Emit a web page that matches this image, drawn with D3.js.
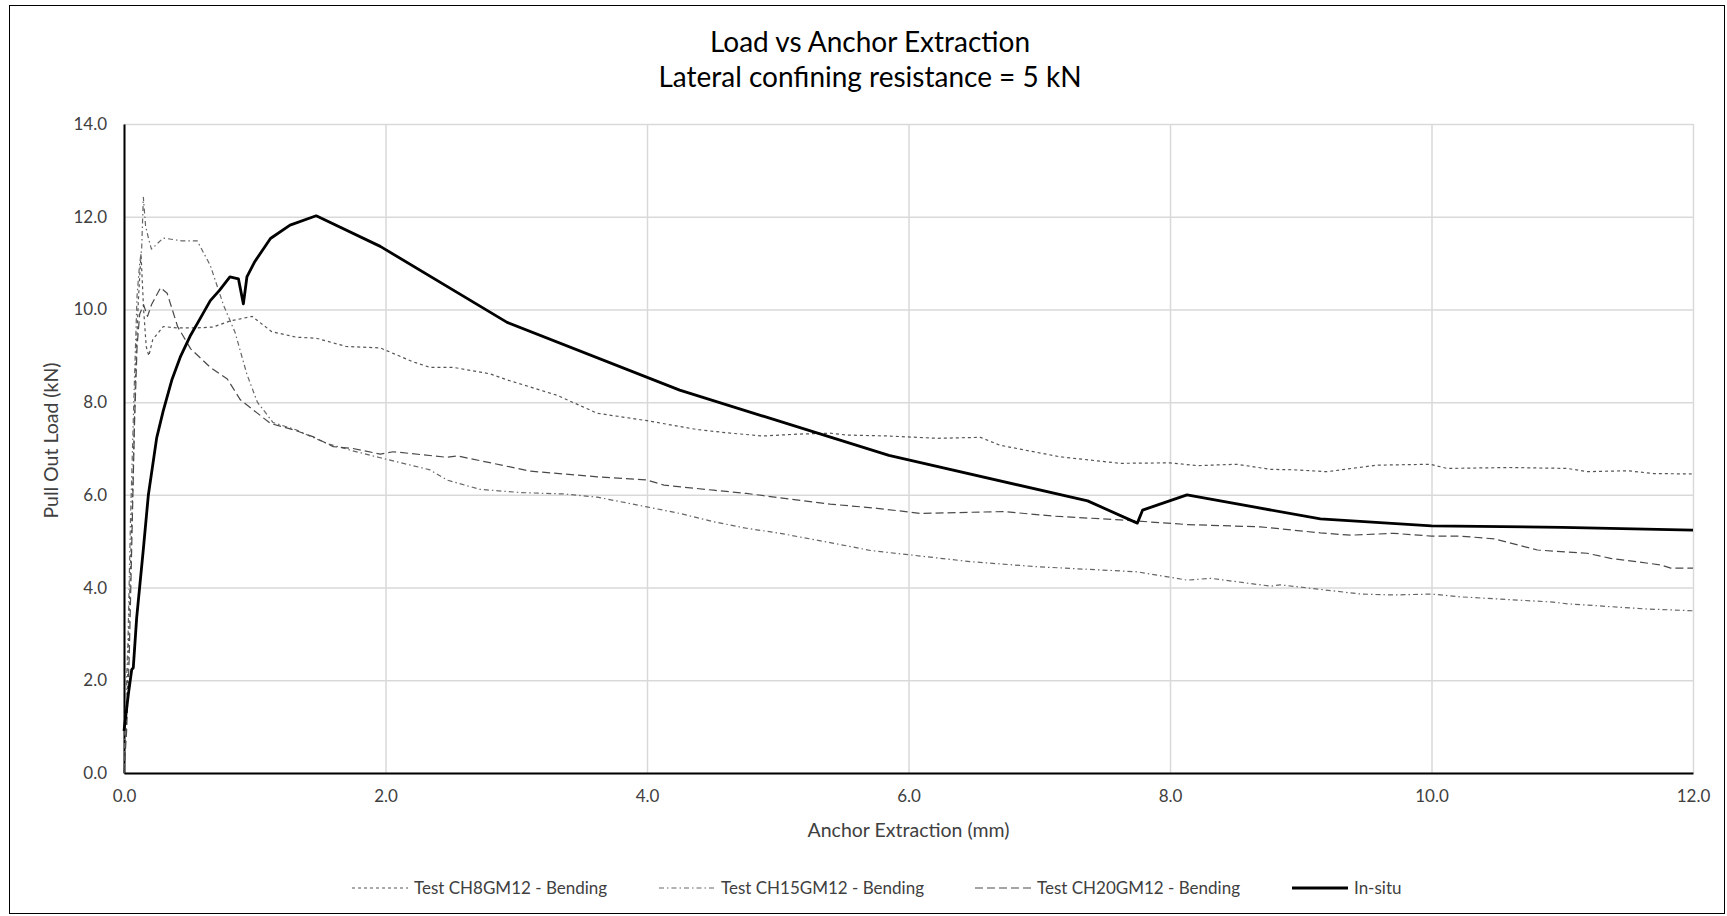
<!DOCTYPE html>
<html>
<head>
<meta charset="utf-8">
<script src="https://cdn.jsdelivr.net/npm/d3@7"></script>
<style>
    body { margin: 0; background: #ffffff; }
    text { font-family: Lato, "Open Sans", sans-serif; fill: #404040; }
</style>
</head>
<body>
<svg id="chart" width="1727" height="916"></svg>
<script>
// Data: [extraction mm, load kN]
var ch8Data = [[0,0],[0.02,1.2],[0.04,3.5],[0.07,6.5],[0.09,8.8],[0.11,10.2],[0.13,11.2],[0.15,10.0],[0.17,9.2],[0.19,9.0],[0.22,9.35],[0.30,9.63],[0.41,9.6],[0.55,9.6],[0.68,9.62],[0.81,9.75],[0.98,9.85],[1.13,9.52],[1.32,9.4],[1.47,9.38],[1.70,9.2],[1.96,9.17],[2.21,8.87],[2.34,8.75],[2.52,8.75],[2.80,8.61],[2.93,8.48],[3.31,8.15],[3.62,7.76],[4.0,7.6],[4.38,7.41],[4.64,7.33],[4.89,7.27],[5.15,7.31],[5.40,7.33],[5.53,7.29],[5.84,7.27],[6.22,7.22],[6.55,7.24],[6.70,7.07],[7.16,6.82],[7.62,6.68],[8.0,6.69],[8.21,6.63],[8.51,6.66],[8.77,6.55],[8.95,6.54],[9.20,6.5],[9.58,6.64],[9.99,6.66],[10.12,6.57],[10.60,6.59],[11.04,6.57],[11.19,6.5],[11.50,6.52],[11.70,6.46],[12.0,6.45]];

var ch15Data = [[0,0],[0.01,1.3],[0.03,2.8],[0.05,5.5],[0.08,8.5],[0.10,10.3],[0.12,11.0],[0.135,11.3],[0.148,12.42],[0.165,11.8],[0.19,11.5],[0.21,11.3],[0.30,11.54],[0.44,11.48],[0.56,11.48],[0.66,10.95],[0.76,10.1],[0.85,9.5],[0.94,8.6],[1.02,8.0],[1.14,7.56],[1.32,7.4],[1.42,7.27],[1.56,7.1],[1.75,6.95],[1.96,6.8],[2.34,6.54],[2.47,6.32],[2.72,6.12],[3.03,6.05],[3.36,6.02],[3.62,5.95],[4.0,5.74],[4.25,5.6],[4.51,5.42],[4.76,5.28],[5.02,5.17],[5.40,4.97],[5.71,4.8],[6.09,4.68],[6.47,4.56],[6.98,4.45],[7.75,4.34],[8.13,4.16],[8.31,4.2],[8.77,4.03],[8.84,4.06],[9.46,3.86],[9.71,3.84],[10.0,3.86],[10.22,3.8],[10.91,3.69],[11.04,3.65],[11.63,3.54],[12.0,3.5]];

var ch20Data = [[0,0],[0.02,0.9],[0.04,2.5],[0.06,5.0],[0.08,7.5],[0.10,9.2],[0.12,9.9],[0.15,10.1],[0.18,9.85],[0.21,10.1],[0.28,10.47],[0.33,10.35],[0.41,9.63],[0.51,9.15],[0.66,8.75],[0.79,8.5],[0.89,8.05],[1.12,7.54],[1.30,7.4],[1.45,7.25],[1.60,7.04],[1.75,7.0],[1.96,6.88],[2.06,6.93],[2.47,6.81],[2.55,6.84],[3.11,6.51],[3.62,6.39],[4.0,6.32],[4.13,6.21],[4.51,6.1],[4.76,6.03],[5.40,5.8],[5.76,5.71],[6.09,5.6],[6.73,5.64],[7.11,5.54],[7.62,5.46],[8.13,5.36],[8.69,5.31],[9.15,5.18],[9.38,5.13],[9.71,5.17],[10.0,5.11],[10.22,5.11],[10.48,5.05],[10.81,4.81],[11.19,4.74],[11.37,4.63],[11.75,4.49],[11.83,4.42],[12.0,4.42]];

var insituData = [[0,0.91],[0.033,1.69],[0.059,2.23],[0.071,2.27],[0.097,3.35],[0.148,4.83],[0.186,5.99],[0.25,7.23],[0.30,7.81],[0.365,8.47],[0.43,8.97],[0.505,9.42],[0.58,9.79],[0.66,10.19],[0.73,10.41],[0.81,10.70],[0.875,10.66],[0.913,10.12],[0.94,10.70],[1.0,11.03],[1.12,11.53],[1.27,11.82],[1.47,12.02],[1.96,11.36],[2.93,9.72],[4.25,8.26],[5.85,6.85],[7.37,5.87],[7.75,5.39],[7.79,5.67],[8.13,6.0],[9.15,5.48],[10.0,5.33],[11.0,5.3],[12.0,5.24]];

var seriesNames = ['Test CH8GM12 - Bending', 'Test CH15GM12 - Bending', 'Test CH20GM12 - Bending', 'In-situ'];
var xTicks = [0, 2, 4, 6, 8, 10, 12];
var yTicks = [0, 2, 4, 6, 8, 10, 12, 14];

var margin = {top: 124, right: 34, bottom: 143, left: 124};
var width = 1727 - margin.left - margin.right;
var height = 916 - margin.top - margin.bottom;

var svg = d3.select('#chart');

// chart border
svg.append('rect')
    .attr('x', 9.5)
    .attr('y', 5.5)
    .attr('width', 1715)
    .attr('height', 908)
    .attr('fill', 'none')
    .attr('stroke', '#000000')
    .attr('stroke-width', 1);

// Title
svg.append('text')
    .attr('x', 870)
    .attr('y', 52)
    .attr('text-anchor', 'middle')
    .attr('font-size', '28px')
    .style('fill', '#000000')
    .text('Load vs Anchor Extraction');
svg.append('text')
    .attr('x', 870)
    .attr('y', 87)
    .attr('text-anchor', 'middle')
    .attr('font-size', '28px')
    .style('fill', '#000000')
    .text('Lateral confining resistance = 5 kN');

var g = svg.append('g')
    .attr('transform', 'translate(' + margin.left + ',' + margin.top + ')');

var x = d3.scaleLinear().domain([0, 12]).range([0, width]);
var y = d3.scaleLinear().domain([0, 14]).range([height, 0]);

// Grid
g.append('g')
    .attr('class', 'grid')
    .attr('transform', 'translate(0,' + height + ')')
    .call(d3.axisBottom(x).tickValues(xTicks).tickSize(-height).tickFormat(''))
    .call(function(a) { a.select('.domain').remove(); })
    .selectAll('line')
    .attr('stroke', '#d9d9d9')
    .attr('stroke-width', 1.5);

g.append('g')
    .attr('class', 'grid')
    .call(d3.axisLeft(y).tickValues(yTicks).tickSize(-width).tickFormat(''))
    .call(function(a) { a.select('.domain').remove(); })
    .selectAll('line')
    .attr('stroke', '#d9d9d9')
    .attr('stroke-width', 1.5);

// Axes
var xAxis = g.append('g')
    .attr('transform', 'translate(0,' + height + ')')
    .call(d3.axisBottom(x).tickValues(xTicks).tickSize(0).tickPadding(17).tickFormat(d3.format('.1f')));
xAxis.select('.domain').attr('stroke', '#000000').attr('stroke-width', 2);
xAxis.selectAll('text').attr('font-size', '17px').style('font-family', 'Lato').style('fill', '#404040');

var yAxis = g.append('g')
    .call(d3.axisLeft(y).tickValues(yTicks).tickSize(0).tickPadding(17).tickFormat(d3.format('.1f')));
yAxis.select('.domain').attr('stroke', '#000000').attr('stroke-width', 2);
yAxis.selectAll('text').attr('font-size', '17px').style('font-family', 'Lato').style('fill', '#404040');

// Axis titles
svg.append('text')
    .attr('x', margin.left + width / 2)
    .attr('y', 837)
    .attr('text-anchor', 'middle')
    .attr('font-size', '19.5px')
    .text('Anchor Extraction (mm)');

svg.append('text')
    .attr('transform', 'translate(58,' + (margin.top + height / 2 - 8) + ') rotate(-90)')
    .attr('text-anchor', 'middle')
    .attr('font-size', '19.5px')
    .text('Pull Out Load (kN)');

// Lines
var line = d3.line()
    .x(function(d) { return x(d[0]); })
    .y(function(d) { return y(d[1]); });

var styles = [
    {data: ch8Data, stroke: '#555555', width: 1.2, dash: '3,3'},
    {data: ch15Data, stroke: '#666666', width: 1.2, dash: '5,3,1.5,3'},
    {data: ch20Data, stroke: '#4a4a4a', width: 1.2, dash: '8,4'},
    {data: insituData, stroke: '#000000', width: 2.8, dash: null}
];

styles.forEach(function(s) {
    g.append('path')
        .datum(s.data)
        .attr('fill', 'none')
        .attr('stroke', s.stroke)
        .attr('stroke-width', s.width)
        .attr('stroke-dasharray', s.dash)
        .attr('stroke-linejoin', 'round')
        .attr('d', line);
});

// Legend
var legendX = [352, 659, 975, 1292];
var legend = svg.append('g').attr('class', 'legend');
styles.forEach(function(s, i) {
    legend.append('line')
        .attr('x1', legendX[i])
        .attr('x2', legendX[i] + 56)
        .attr('y1', 888)
        .attr('y2', 888)
        .attr('stroke', s.stroke)
        .attr('stroke-width', s.width)
        .attr('stroke-dasharray', s.dash);
    legend.append('text')
        .attr('x', legendX[i] + 62)
        .attr('y', 894)
        .attr('font-size', '17px')
        .text(seriesNames[i]);
});
</script>
</body>
</html>
